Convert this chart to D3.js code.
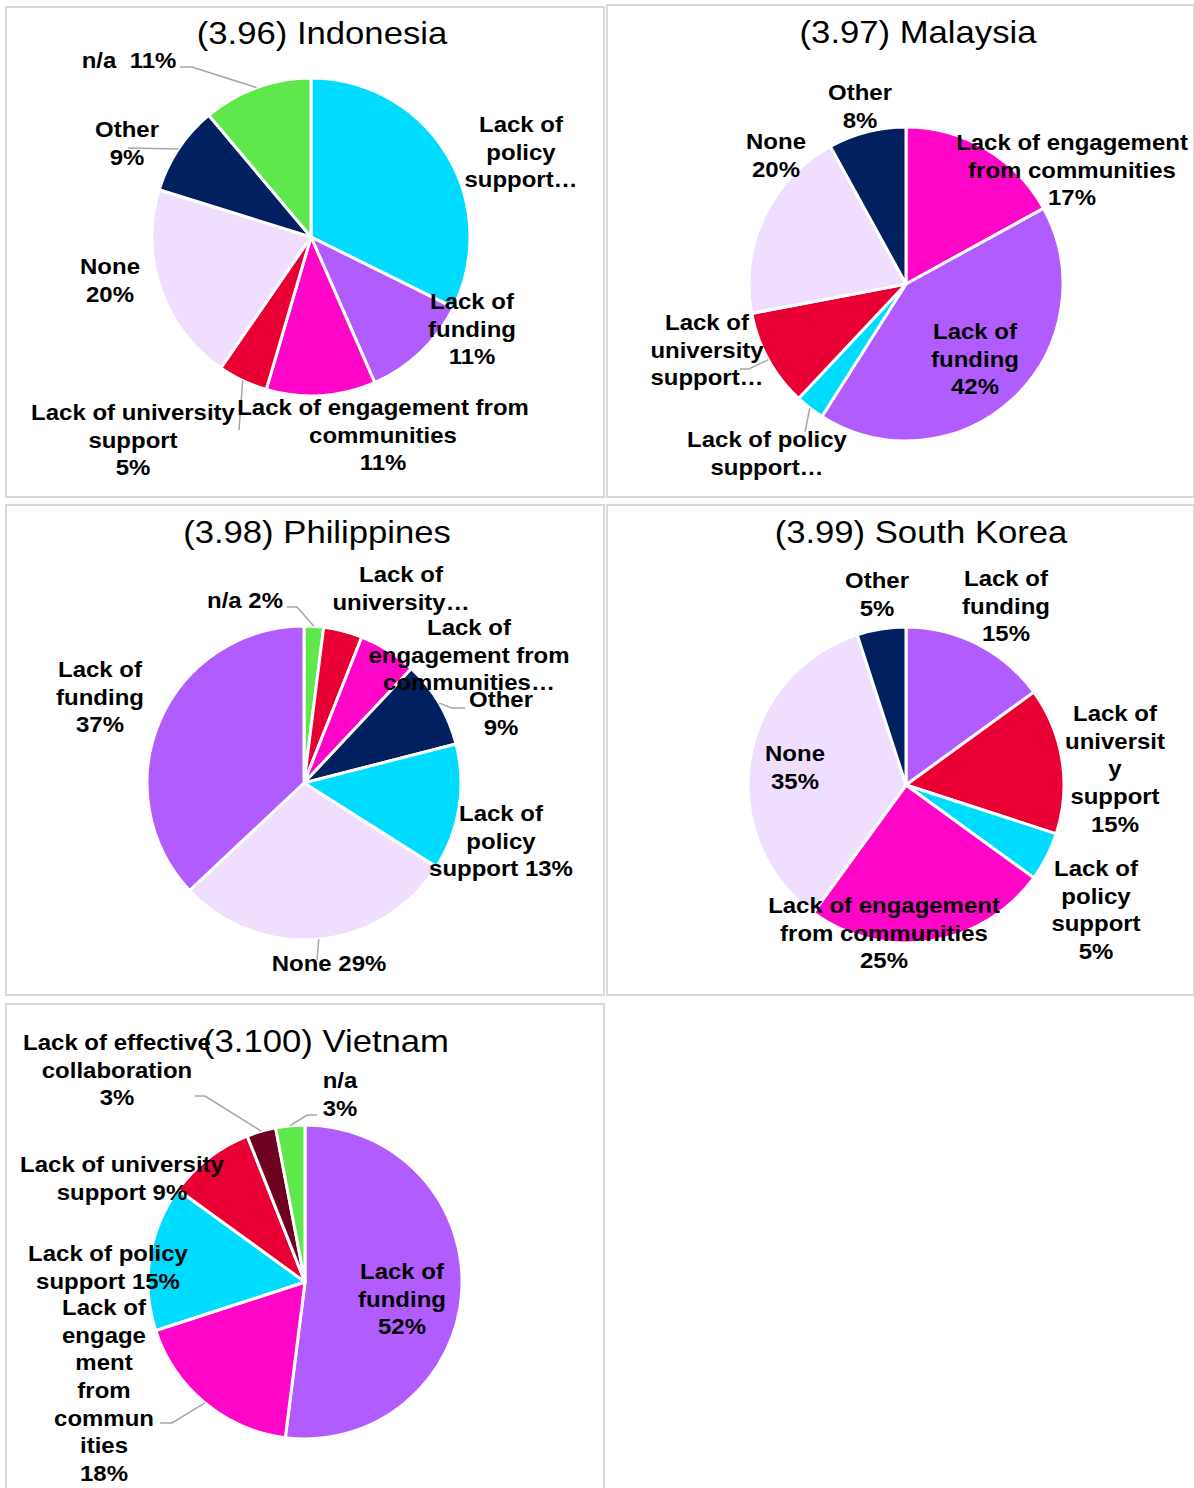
<!DOCTYPE html>
<html>
<head>
<meta charset="utf-8">
<script src="https://cdn.jsdelivr.net/npm/d3@7"></script>
<style>
  html, body { margin: 0; padding: 0; background: #ffffff; }
  svg { display: block; }
  text { font-family: "Liberation Sans", Arial, sans-serif; fill: #000; white-space: pre; }
</style>
</head>
<body>
<svg id="chart" width="1194" height="1488"></svg>
<script>
// ---- Data: share of responses per barrier, one set of arrays per country ----
const indonesiaCategories = ["Lack of policy support", "Lack of funding", "Lack of engagement from communities", "Lack of university support", "None", "Other", "n/a"];
const indonesiaValues = [32, 11, 11, 5, 20, 9, 11];
const indonesiaLabels = [["Lack of", "policy", "support…"], ["Lack of", "funding", "{p}"], ["Lack of engagement from", "communities", "{p}"], ["Lack of university", "support", "{p}"], ["None", "{p}"], ["Other", "{p}"], ["n/a\u00a0 {p}"]];

const malaysiaCategories = ["Lack of engagement from communities", "Lack of funding", "Lack of policy support", "Lack of university support", "None", "Other"];
const malaysiaValues = [17, 42, 3, 10, 20, 8];
const malaysiaLabels = [["Lack of engagement", "from communities", "{p}"], ["Lack of", "funding", "{p}"], ["Lack of policy", "support…"], ["Lack of", "university", "support…"], ["None", "{p}"], ["Other", "{p}"]];

const philippinesCategories = ["n/a", "Lack of university support", "Lack of engagement from communities", "Other", "Lack of policy support", "None", "Lack of funding"];
const philippinesValues = [2, 4, 6, 9, 13, 29, 37];
const philippinesLabels = [["n/a {p}"], ["Lack of", "university…"], ["Lack of", "engagement from", "communities…"], ["Other", "{p}"], ["Lack of", "policy", "support {p}"], ["None {p}"], ["Lack of", "funding", "{p}"]];

const koreaCategories = ["Lack of funding", "Lack of university support", "Lack of policy support", "Lack of engagement from communities", "None", "Other"];
const koreaValues = [15, 15, 5, 25, 35, 5];
const koreaLabels = [["Lack of", "funding", "{p}"], ["Lack of", "universit", "y", "support", "{p}"], ["Lack of", "policy", "support", "{p}"], ["Lack of engagement", "from communities", "{p}"], ["None", "{p}"], ["Other", "{p}"]];

const vietnamCategories = ["Lack of funding", "Lack of engagement from communities", "Lack of policy support", "Lack of university support", "Lack of effective collaboration", "n/a"];
const vietnamValues = [52, 18, 15, 9, 3, 3];
const vietnamLabels = [["Lack of", "funding", "{p}"], ["Lack of", "engage", "ment", "from", "commun", "ities", "{p}"], ["Lack of policy", "support {p}"], ["Lack of university", "support {p}"], ["Lack of effective", "collaboration", "{p}"], ["n/a", "{p}"]];

// One colour per barrier, shared by all countries
const barrierColor = d3.scaleOrdinal()
  .domain(["Lack of policy support", "Lack of funding", "Lack of engagement from communities", "Lack of university support", "None", "Other", "n/a", "Lack of effective collaboration"])
  .range(["#00dcff", "#b05cff", "#ff05c8", "#e80035", "#efdefd", "#002060", "#5ee84c", "#6e0020"]);

// ---- Layout of the five panels ----
const panels = [
  {
    title: "(3.96) Indonesia", categories: indonesiaCategories, values: indonesiaValues, labels: indonesiaLabels,
    box: [6, 7, 598, 490], titleAt: [322, 44], center: [311, 237], r: 159,
    labelAt: [[521, 132], [472, 309], [383, 415], [133, 420], [110, 274], [127, 137], [129, 68]],
    leaders: { 6: [[180, 67], [192, 67]], 5: [[128, 148]], 3: [[239, 430]] }
  },
  {
    title: "(3.97) Malaysia", categories: malaysiaCategories, values: malaysiaValues, labels: malaysiaLabels,
    box: [607, 5, 587, 492], titleAt: [918, 43], center: [906, 284], r: 157,
    labelAt: [[1072, 150], [975, 339], [767, 447], [707, 330], [776, 149], [860, 100]],
    leaders: { 3: [[740, 369], [749, 369]], 2: [[805, 432]] }
  },
  {
    title: "(3.98) Philippines", categories: philippinesCategories, values: philippinesValues, labels: philippinesLabels,
    box: [6, 505, 598, 490], titleAt: [317, 543], center: [304, 783], r: 157,
    labelAt: [[245, 608], [401, 582], [469, 635], [501, 707], [501, 821], [329, 971], [100, 677]],
    leaders: { 0: [[287, 607], [297, 607]], 3: [[465, 708], [452, 708]], 5: [[317, 960]] }
  },
  {
    title: "(3.99) South Korea", categories: koreaCategories, values: koreaValues, labels: koreaLabels,
    box: [607, 505, 587, 490], titleAt: [921, 543], center: [906, 785], r: 158,
    labelAt: [[1006, 586], [1115, 721], [1096, 876], [884, 913], [795, 761], [877, 588]],
    leaders: {}
  },
  {
    title: "(3.100) Vietnam", categories: vietnamCategories, values: vietnamValues, labels: vietnamLabels,
    box: [6, 1004, 598, 500], titleAt: [326, 1052], center: [305, 1282], r: 157,
    labelAt: [[402, 1279], [104, 1315], [108, 1261], [122, 1172], [117, 1050], [340, 1088]],
    leaders: { 4: [[195, 1096], [205, 1096]], 5: [[317, 1115], [307, 1115]], 1: [[160, 1423], [172, 1423]] }
  }
];

const TEXT_STRETCH = 1.09;   // the labels are set slightly wide
const LINE_GAP = 27.7;

const svg = d3.select("#chart");

panels.forEach(p => {
  const g = svg.append("g");

  // panel frame
  g.append("rect")
    .attr("x", p.box[0]).attr("y", p.box[1])
    .attr("width", p.box[2]).attr("height", p.box[3])
    .attr("fill", "#ffffff").attr("stroke", "#d9d9d9").attr("stroke-width", 2);

  const total = d3.sum(p.values);
  const pie = d3.pie().sort(null).value(d => d.value);
  const rows = p.categories.map((c, i) => ({ category: c, value: p.values[i], label: p.labels[i], i }));
  const arcs = pie(rows);
  const arc = d3.arc().innerRadius(0).outerRadius(p.r);

  const pieG = g.append("g").attr("transform", `translate(${p.center[0]},${p.center[1]})`);
  pieG.selectAll("path")
    .data(arcs)
    .join("path")
    .attr("d", arc)
    .attr("fill", d => barrierColor(d.data.category))
    .attr("stroke", "#ffffff")
    .attr("stroke-width", 3)
    .attr("stroke-linejoin", "round");

  // leader lines: from the label to the rim at the slice's middle angle
  Object.entries(p.leaders).forEach(([k, pts]) => {
    const a = arcs[+k];
    const mid = (a.startAngle + a.endAngle) / 2;
    const rim = [p.center[0] + p.r * Math.sin(mid), p.center[1] - p.r * Math.cos(mid)];
    g.append("path")
      .attr("d", d3.line()([...pts, rim]))
      .attr("fill", "none")
      .attr("stroke", "#a6a6a6")
      .attr("stroke-width", 1.5);
  });

  // title
  g.append("text")
    .attr("transform", `translate(${p.titleAt[0]},${p.titleAt[1]}) scale(1.1,1)`)
    .attr("text-anchor", "middle")
    .attr("font-size", 31.5)
    .attr("fill", "#000")
    .text(p.title);

  // data labels; percentages come from the slice values
  arcs.forEach((a, j) => {
    const pct = Math.round(a.data.value / total * 100) + "%";
    const [lx, ly] = p.labelAt[j];
    const t = g.append("text")
      .attr("transform", `translate(${lx},${ly}) scale(${TEXT_STRETCH},1)`)
      .attr("text-anchor", "middle")
      .attr("font-size", 22)
      .attr("font-weight", "bold");
    a.data.label.forEach((line, li) => {
      t.append("tspan")
        .attr("x", 0)
        .attr("y", li * LINE_GAP)
        .text(line.replace("{p}", pct));
    });
  });
});
</script>
</body>
</html>
